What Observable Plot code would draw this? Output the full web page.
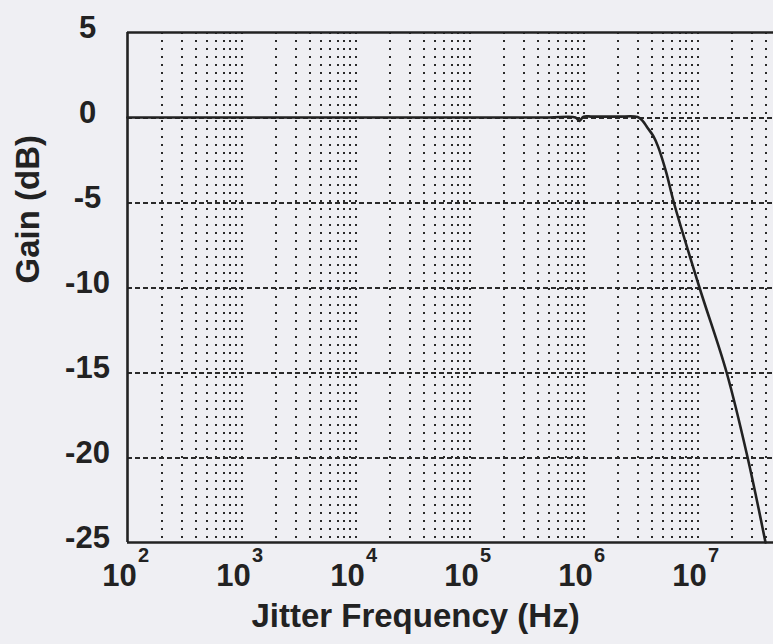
<!DOCTYPE html>
<html>
<head>
<meta charset="utf-8">
<script src="https://cdn.jsdelivr.net/npm/d3@7"></script>
<script src="https://cdn.jsdelivr.net/npm/@observablehq/plot@0.6"></script>
<style>
  html, body { margin: 0; padding: 0; background: #efeff3; }
</style>
</head>
<body>
<div id="chart"></div>
<script>
// Decade tick positions and their exponent labels
const xTicks = [1e2, 1e3, 1e4, 1e5, 1e6, 1e7];
const xExponents = ["2", "3", "4", "5", "6", "7"];
const xMax = 4.64e7;            // right edge of visible plot (cropped)
// Y ticks and grid
const yTicks = [5, 0, -5, -10, -15, -20, -25];
const yGrid = [0, -5, -10, -15, -20];
// Gain curve (frequency in Hz, gain in dB)
const freq = [1e2, 1e3, 1e4, 1e5, 5e5, 8.5e5, 9.2e5, 1e6, 1.2e6, 2e6, 2.98e6, 3.3e6, 3.64e6, 4.1e6, 4.5e6, 5.3e6, 6.2e6, 1.04e7, 1.8e7, 2.75e7, 3.95e7];
const gain = [0, 0, 0, 0, 0, 0, -0.2, 0.05, 0.05, 0.05, 0.03, -0.2, -0.6, -1.1, -1.7, -3.2, -5, -10, -15, -20, -25];
const xLabel = "Jitter Frequency (Hz)";
const yLabel = "Gain (dB)";

const minorX = [];
for (const d of xTicks) for (let k = 1; k <= 9; k++) { const v = k * d; if (v > 100 && v <= xMax) minorX.push(v); }
const curve = freq.map((f, i) => ({f, g: gain[i]}));

const ink = "#222";
const font = "'Liberation Sans', Arial, Helvetica, sans-serif";

const chart = Plot.plot({
  width: 773,
  height: 644,
  marginTop: 32,
  marginBottom: 102,
  marginLeft: 127,
  marginRight: 0,
  x: {type: "log", domain: [100, xMax], axis: null},
  y: {domain: [-25, 5], axis: null},
  style: {background: "#efeff3", fontFamily: font, fontWeight: "bold", color: ink},
  marks: [
    Plot.ruleX(minorX, {stroke: "#2a2a2a", strokeWidth: 2, strokeDasharray: "2,6", shapeRendering: "crispEdges"}),
    Plot.ruleY(yGrid, {stroke: "#2a2a2a", strokeWidth: 2, strokeDasharray: "4.5,3.5", shapeRendering: "crispEdges"}),
    Plot.ruleY([5, -25], {stroke: ink, strokeWidth: 2.6}),
    Plot.ruleX([100], {stroke: ink, strokeWidth: 2.6}),
    Plot.line(curve, {x: "f", y: "g", stroke: ink, strokeWidth: 2.6, curve: "catmull-rom"}),
    Plot.axisY(yTicks, {tickSize: 0, tickPadding: 40, textAnchor: "middle", tickFormat: d => String(d), fontSize: 31, fontWeight: "bold", dy: -4, label: null, fill: ink}),
    Plot.text(xTicks, {x: d => d, text: () => "10", frameAnchor: "bottom", dy: 43, dx: -8, fontSize: 31, fontWeight: "bold", fill: ink}),
    Plot.text(xTicks, {x: d => d, text: (d, i) => xExponents[i], frameAnchor: "bottom", dy: 19, dx: 16, fontSize: 20, fontWeight: "bold", fill: ink}),
    Plot.text([xLabel], {frameAnchor: "bottom", dx: -35, dy: 84, fontSize: 33, fontWeight: "bold", fill: ink}),
    Plot.text([yLabel], {frameAnchor: "left", dx: -99, dy: -4, rotate: -90, fontSize: 33, fontWeight: "bold", fill: ink})
  ]
});
document.getElementById("chart").appendChild(chart);
</script>
</body>
</html>
